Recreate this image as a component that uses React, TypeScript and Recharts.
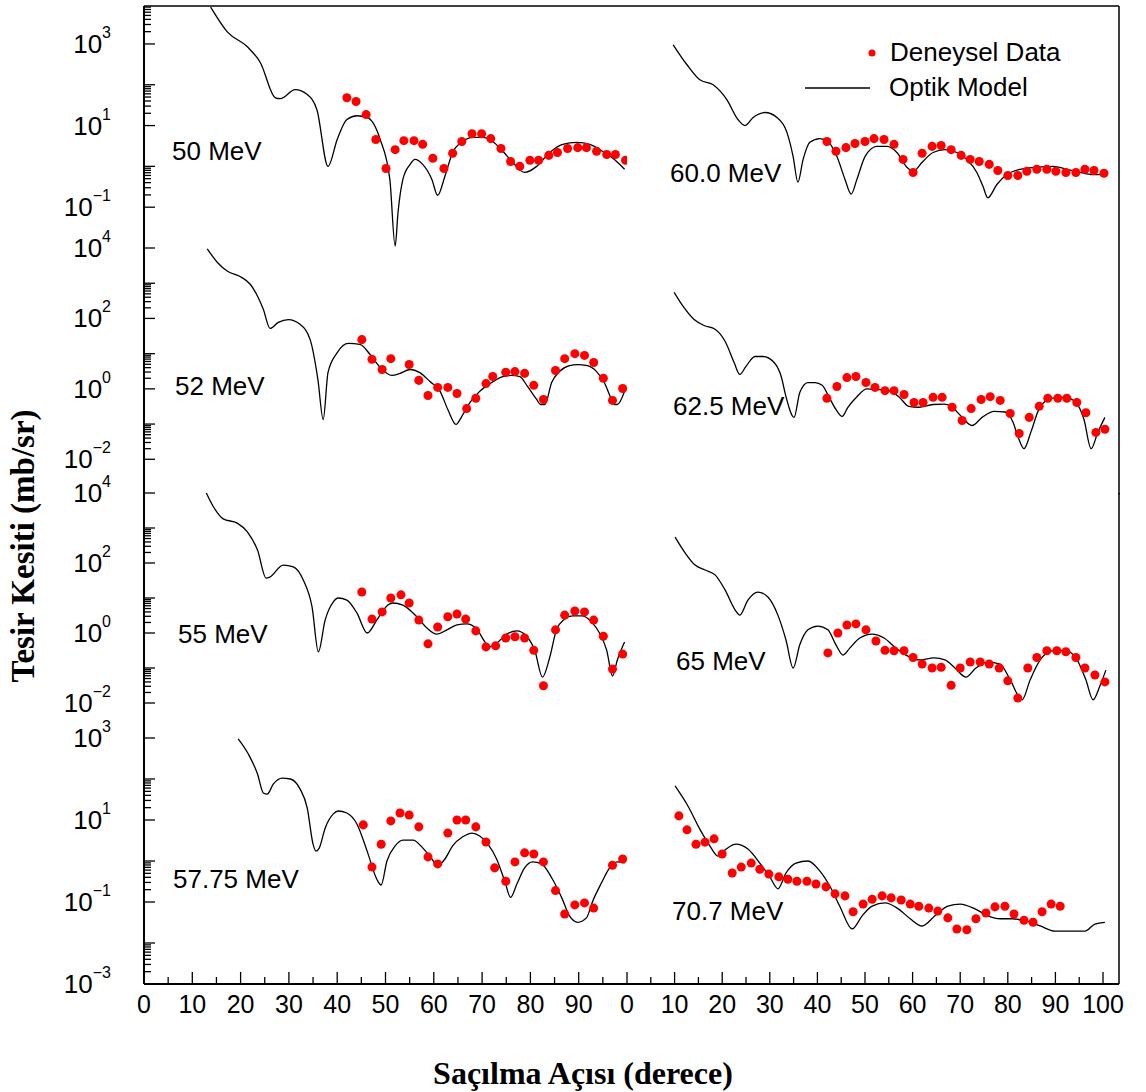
import React from 'react';
import { ComposedChart, Line, Scatter, XAxis, YAxis, ReferenceLine, Legend } from 'recharts';

const SANS = '"Liberation Sans", Arial, Helvetica, sans-serif';
const SERIF = '"Liberation Serif", "Times New Roman", serif';
const RED = '#ff0000';

// ---- data: scattering angle (deg) and cross section (mb/sr) ----
const fit50x = [13.8, 17.3, 21.4, 24.1, 27.2, 28.2, 31.3, 33.8, 35.8, 38.1, 40.0, 42.0, 44.1, 46.2, 48.9, 50.9, 52.0, 52.6, 53.6, 55.1, 56.1, 57.7, 59.6, 60.8, 62.3, 63.9, 66.0, 68.1, 70.1, 72.2, 74.3, 76.3, 78.8, 81.3, 84.0, 86.7, 89.6, 92.3, 94.9, 97.4, 99.5];
const fit50y = [8000, 1950, 851, 347, 47.9, 45.7, 75.9, 57.5, 24.5, 1.0, 4.57, 14.1, 17.4, 15.8, 4.57, 0.48, 0.0112, 0.076, 0.48, 1.12, 1.48, 1.12, 0.48, 0.195, 0.575, 2.19, 4.07, 5.13, 5.13, 4.07, 2.34, 1.26, 0.71, 1.0, 2.19, 3.47, 3.89, 3.47, 2.34, 1.48, 0.85];
const exp50x = [42.0, 43.9, 46.0, 48.0, 50.1, 52.0, 53.8, 55.9, 57.7, 59.8, 62.1, 63.9, 65.8, 67.9, 69.9, 71.8, 73.9, 75.9, 77.8, 79.9, 81.7, 83.8, 85.6, 87.7, 89.8, 91.6, 93.7, 95.8, 97.6, 99.7];
const exp50y = [47.9, 38.9, 18.6, 4.57, 0.89, 2.57, 4.27, 4.27, 3.47, 1.58, 0.89, 2.09, 4.07, 6.31, 6.31, 4.79, 2.75, 1.32, 1.0, 1.41, 1.41, 1.86, 2.19, 2.75, 2.88, 2.88, 2.34, 1.95, 1.95, 1.41];

const fit52x = [13.1, 15.2, 17.3, 19.9, 22.0, 24.7, 26.1, 27.8, 29.9, 32.3, 34.4, 36.0, 37.1, 38.1, 40.0, 42.3, 44.7, 46.8, 48.9, 51.3, 53.0, 55.1, 57.1, 59.2, 61.3, 62.9, 64.6, 65.8, 67.5, 69.5, 72.0, 74.3, 76.1, 77.8, 79.4, 81.3, 82.1, 83.0, 84.4, 86.0, 88.1, 89.8, 91.8, 93.7, 95.3, 96.8, 97.4, 98.0, 99.5];
const fit52y = [9500, 3890, 2190, 1550, 933, 182, 52, 77, 93, 68, 25, 1.86, 0.135, 2.95, 10.7, 19.5, 18.2, 9.5, 4.07, 2.4, 2.75, 3.55, 2.9, 1.62, 0.85, 0.26, 0.098, 0.166, 0.41, 0.85, 1.51, 2.24, 2.4, 2.24, 1.17, 0.5, 0.36, 0.36, 1.51, 3.09, 4.57, 4.9, 4.57, 3.09, 1.51, 0.5, 0.36, 0.36, 0.85];
const exp52x = [45.1, 47.2, 49.3, 51.1, 54.9, 56.9, 58.8, 60.8, 62.9, 64.8, 66.8, 68.7, 70.8, 72.2, 74.9, 76.8, 78.8, 80.7, 82.7, 85.2, 87.1, 89.2, 91.2, 93.1, 95.1, 97.0, 99.1];
const exp52y = [25, 6.9, 3.55, 7.2, 4.9, 1.74, 0.65, 1.1, 1.1, 0.74, 0.275, 0.54, 1.41, 2.24, 2.95, 3.09, 2.75, 1.26, 0.5, 3.31, 7.2, 10, 8.9, 5.6, 2.0, 0.47, 1.02];

const fit55x = [12.9, 14.4, 16.4, 19.3, 21.4, 23.5, 25.3, 26.1, 28.8, 30.9, 33.0, 34.8, 36.1, 37.5, 39.2, 40.2, 42.0, 44.1, 46.2, 48.2, 50.5, 51.5, 53.6, 56.5, 58.6, 60.6, 62.7, 64.8, 66.8, 68.9, 70.6, 71.6, 73.0, 75.1, 77.2, 79.2, 80.9, 82.5, 84.0, 85.4, 87.1, 88.7, 90.8, 92.7, 94.3, 95.8, 97.0, 98.0, 99.5];
const fit55y = [10000, 3980, 1820, 1380, 776, 234, 37, 40, 87, 77, 32, 5.5, 0.29, 2.34, 7.8, 10, 8.7, 3.7, 1.0, 2.34, 6.3, 7.2, 6.3, 2.9, 1.38, 0.93, 1.23, 1.7, 1.82, 1.29, 0.55, 0.4, 0.51, 0.93, 1.15, 0.81, 0.32, 0.055, 0.2, 1.23, 2.5, 3.1, 3.1, 2.04, 1.0, 0.32, 0.059, 0.17, 0.55];
const exp55x = [45.1, 47.2, 49.3, 51.1, 53.2, 54.9, 56.9, 58.8, 60.8, 62.9, 64.8, 66.6, 68.7, 70.8, 72.8, 74.9, 76.8, 78.8, 80.7, 82.7, 85.2, 87.1, 89.2, 91.2, 93.1, 95.1, 97.0, 99.1];
const exp55y = [14.8, 2.5, 4.0, 10, 12.3, 7.2, 2.34, 0.49, 1.48, 2.9, 3.5, 2.5, 1.15, 0.4, 0.43, 0.72, 0.78, 0.72, 0.32, 0.031, 1.23, 3.24, 4.27, 4.0, 2.34, 0.81, 0.093, 0.25];

const fit5775x = [19.5, 21.6, 23.5, 24.7, 25.5, 26.8, 28.6, 30.3, 32.3, 33.8, 35.0, 35.6, 36.3, 37.5, 39.2, 40.2, 42.0, 44.1, 46.2, 48.2, 49.1, 50.3, 52.0, 53.6, 55.7, 57.7, 59.6, 60.8, 62.3, 63.9, 66.0, 67.9, 69.5, 71.2, 73.0, 74.7, 75.9, 77.2, 78.8, 80.5, 82.3, 84.4, 86.5, 88.1, 89.8, 91.6, 92.9, 94.7, 96.4, 98.0, 99.5];
const fit5775y = [955, 407, 132, 45.7, 42.7, 75.9, 105, 100, 57.5, 19.5, 2.57, 1.74, 2.09, 6.3, 14.1, 16.6, 14.8, 7.9, 1.74, 0.36, 0.26, 1.0, 2.34, 3.24, 3.24, 2.09, 1.12, 0.76, 1.12, 2.34, 3.89, 4.79, 4.07, 2.57, 1.12, 0.32, 0.13, 0.275, 0.68, 0.95, 0.85, 0.39, 0.126, 0.046, 0.032, 0.041, 0.105, 0.29, 0.68, 0.95, 0.9];
const exp5775x = [45.4, 47.2, 49.1, 51.1, 53.0, 54.9, 56.9, 58.8, 60.8, 62.9, 64.8, 66.6, 68.7, 70.8, 72.6, 74.9, 76.8, 78.8, 80.7, 82.7, 85.2, 87.1, 89.2, 91.2, 93.1, 97.0, 99.1];
const exp5775y = [7.6, 0.71, 2.57, 9.5, 14.8, 13.2, 6.8, 1.26, 0.85, 4.8, 10, 10, 6.8, 2.9, 0.68, 0.32, 0.95, 1.58, 1.48, 0.95, 0.19, 0.051, 0.085, 0.095, 0.071, 0.79, 1.12];

const fit60x = [9.7, 12.6, 15.3, 18.1, 21.0, 23.3, 24.8, 26.5, 29.0, 31.5, 33.6, 34.9, 35.9, 37.0, 38.4, 40.5, 42.2, 44.1, 45.8, 47.1, 48.3, 50.0, 52.5, 54.6, 56.7, 58.8, 60.1, 62.0, 64.3, 66.8, 69.3, 71.4, 73.5, 74.8, 75.8, 77.7, 79.8, 82.6, 86.1, 89.5, 92.4, 95.2, 97.9, 100];
const fit60y = [955, 309, 132, 100, 42.7, 14.1, 10, 15.8, 20.9, 15.8, 6.8, 1.74, 0.41, 1.48, 3.89, 4.8, 4.07, 1.74, 0.48, 0.21, 0.48, 1.74, 3.09, 3.09, 2.19, 0.95, 0.76, 1.26, 2.19, 2.57, 2.19, 1.48, 0.71, 0.32, 0.17, 0.36, 0.63, 0.85, 0.95, 1.0, 0.85, 0.71, 0.63, 0.63];
const exp60x = [42.0, 43.9, 46.0, 47.9, 50.0, 51.9, 54.0, 56.1, 58.0, 60.1, 62.0, 64.1, 66.0, 68.1, 70.2, 72.1, 74.0, 76.1, 77.9, 80.0, 82.1, 84.0, 86.1, 88.2, 90.1, 92.2, 94.3, 96.2, 98.1, 100.2];
const exp60y = [4.07, 2.34, 2.88, 3.63, 4.07, 4.79, 4.57, 3.47, 1.48, 0.71, 2.09, 3.09, 3.24, 2.57, 1.86, 1.48, 1.32, 1.12, 0.79, 0.6, 0.6, 0.76, 0.85, 0.85, 0.76, 0.71, 0.71, 0.85, 0.79, 0.68];

const fit625x = [9.9, 11.8, 14.1, 16.2, 18.5, 20.6, 22.5, 23.7, 25.0, 26.9, 28.6, 30.9, 32.4, 33.4, 35.1, 36.3, 38.0, 39.5, 41.0, 42.4, 43.9, 45.2, 46.4, 48.3, 50.4, 52.7, 54.8, 57.1, 59.2, 61.3, 64.3, 66.6, 68.1, 70.2, 72.5, 74.6, 77.1, 79.4, 81.1, 82.1, 83.4, 84.9, 86.6, 89.1, 92.0, 94.3, 96.0, 97.5, 98.9, 100.4];
const fit625y = [550, 219, 93, 63, 49, 22.4, 5.6, 2.57, 4.37, 8.3, 8.3, 5.6, 2.24, 0.6, 0.155, 0.79, 1.51, 1.51, 1.26, 0.6, 0.26, 0.166, 0.3, 0.6, 1.0, 0.96, 0.9, 0.6, 0.32, 0.3, 0.36, 0.37, 0.32, 0.166, 0.091, 0.155, 0.23, 0.22, 0.112, 0.045, 0.02, 0.062, 0.275, 0.54, 0.575, 0.41, 0.135, 0.02, 0.058, 0.155];
const exp625x = [42.0, 44.1, 46.2, 48.1, 50.2, 52.1, 54.2, 56.1, 58.2, 60.3, 62.2, 64.3, 66.2, 68.3, 70.4, 72.3, 74.4, 76.3, 78.4, 80.5, 82.4, 84.5, 86.6, 88.4, 90.5, 92.4, 94.5, 96.4, 98.5, 100.4];
const exp625y = [0.54, 1.17, 2.09, 2.24, 1.51, 1.1, 0.89, 0.89, 0.69, 0.41, 0.41, 0.575, 0.575, 0.3, 0.126, 0.275, 0.5, 0.6, 0.47, 0.2, 0.054, 0.155, 0.32, 0.54, 0.54, 0.54, 0.41, 0.21, 0.058, 0.071];

const fit65x = [10.1, 12.2, 14.3, 16.4, 18.5, 20.6, 22.7, 23.7, 25.4, 27.5, 29.6, 31.7, 33.4, 34.9, 36.3, 38.0, 40.1, 42.2, 43.9, 45.4, 46.8, 48.9, 51.5, 54.0, 56.5, 58.6, 61.6, 64.5, 66.8, 68.9, 71.2, 73.3, 75.8, 78.4, 80.5, 83.0, 84.7, 86.8, 89.3, 92.0, 94.3, 96.4, 97.9, 99.4, 100.6];
const fit65y = [550, 195, 87, 63, 45.7, 17, 4.6, 3.24, 8.7, 14.8, 10.7, 3.24, 0.63, 0.1, 0.46, 1.23, 1.58, 1.23, 0.46, 0.234, 0.37, 0.72, 0.93, 0.72, 0.37, 0.234, 0.17, 0.195, 0.17, 0.1, 0.055, 0.1, 0.148, 0.13, 0.046, 0.0123, 0.046, 0.17, 0.31, 0.32, 0.195, 0.046, 0.0123, 0.032, 0.087];
const exp65x = [42.2, 44.3, 46.2, 48.1, 50.2, 52.3, 54.2, 56.1, 58.2, 60.1, 62.0, 64.1, 66.0, 68.1, 70.0, 72.1, 74.2, 76.1, 78.2, 80.0, 82.1, 84.2, 86.1, 88.2, 90.3, 92.2, 94.3, 96.2, 98.3, 100.4];
const exp65y = [0.27, 1.0, 1.7, 1.82, 1.23, 0.59, 0.32, 0.31, 0.31, 0.2, 0.13, 0.1, 0.105, 0.032, 0.1, 0.148, 0.148, 0.13, 0.1, 0.043, 0.0138, 0.1, 0.2, 0.31, 0.31, 0.29, 0.2, 0.1, 0.063, 0.04];

const fit707x = [10.1, 12.8, 15.3, 17.4, 19.1, 20.8, 22.9, 25.4, 27.9, 30.0, 31.7, 33.4, 35.5, 38.0, 40.5, 42.6, 44.7, 47.3, 49.4, 51.5, 54.2, 57.0, 59.5, 62.0, 64.7, 67.4, 70.0, 73.1, 75.8, 78.4, 80.9, 83.6, 86.8, 89.9, 93.1, 96.2, 98.3, 100.4];
const fit707y = [68, 22, 6.0, 2.34, 1.32, 1.95, 2.57, 1.95, 0.89, 0.41, 0.21, 0.51, 0.89, 1.0, 0.575, 0.245, 0.079, 0.022, 0.046, 0.079, 0.095, 0.068, 0.039, 0.026, 0.046, 0.079, 0.089, 0.068, 0.046, 0.039, 0.039, 0.035, 0.026, 0.0195, 0.0195, 0.0195, 0.029, 0.032];
const exp707x = [10.9, 12.6, 14.5, 16.4, 18.3, 20.0, 22.1, 24.0, 26.1, 27.9, 29.8, 31.9, 33.8, 35.7, 37.8, 39.7, 41.8, 43.7, 45.8, 47.5, 49.6, 51.5, 53.6, 55.5, 57.6, 59.5, 61.3, 63.4, 65.3, 67.4, 69.3, 71.4, 73.3, 75.4, 77.3, 79.4, 81.3, 83.4, 85.3, 87.2, 89.1, 91.0];
const exp707y = [12.6, 5.75, 2.57, 2.88, 3.47, 1.48, 0.51, 0.71, 0.89, 0.63, 0.48, 0.41, 0.36, 0.32, 0.32, 0.275, 0.234, 0.158, 0.141, 0.058, 0.089, 0.117, 0.141, 0.126, 0.112, 0.089, 0.079, 0.071, 0.06, 0.041, 0.022, 0.021, 0.039, 0.054, 0.076, 0.079, 0.051, 0.036, 0.032, 0.058, 0.089, 0.079];

const energies = ['50 MeV', '52 MeV', '55 MeV', '57.75 MeV', '60.0 MeV', '62.5 MeV', '65 MeV', '70.7 MeV'];
const yLabelExps = [[3, 1, -1], [4, 2, 0, -2], [4, 2, 0, -2], [3, 1, -1, -3]];
const leftTicks = [0, 5, 10, 15, 20, 25, 30, 35, 40, 45, 50, 55, 60, 65, 70, 75, 80, 85, 90, 95];
const rightTicks = [0, 5, 10, 15, 20, 25, 30, 35, 40, 45, 50, 55, 60, 65, 70, 75, 80, 85, 90, 95, 100];

const zip = (xs: number[], ys: number[]) => xs.map((a, i) => ({ a, v: ys[i] }));

const panels = [
  { row: 0, col: 0, fit: zip(fit50x, fit50y), exp: zip(exp50x, exp50y) },
  { row: 1, col: 0, fit: zip(fit52x, fit52y), exp: zip(exp52x, exp52y) },
  { row: 2, col: 0, fit: zip(fit55x, fit55y), exp: zip(exp55x, exp55y) },
  { row: 3, col: 0, fit: zip(fit5775x, fit5775y), exp: zip(exp5775x, exp5775y) },
  { row: 0, col: 1, fit: zip(fit60x, fit60y), exp: zip(exp60x, exp60y) },
  { row: 1, col: 1, fit: zip(fit625x, fit625y), exp: zip(exp625x, exp625y) },
  { row: 2, col: 1, fit: zip(fit65x, fit65y), exp: zip(exp65x, exp65y) },
  { row: 3, col: 1, fit: zip(fit707x, fit707y), exp: zip(exp707x, exp707y) },
];

// ---- layout (page pixels) ----
const AXIS_X = 144;
const MID_X = 627;
const RIGHT_X = 1119;
const ROW_TOP = [6, 248, 493, 738];
const ROW_BOTTOM = [248, 494.5, 738, 984];
const Y_DOMAINS: [number, number][] = [[0.01, 8511], [0.001, 10000], [0.001, 10000], [0.001, 1000]];
const RIGHT_MAX = 103.36;
const LABEL_POS = [[172, 160], [175, 395], [178, 643], [173, 888], [670, 182], [673, 415], [676, 670], [672, 920]];

function logTicks(exps: number[], dom: [number, number]) {
  const out: number[] = [];
  exps.forEach((e) => {
    const base = Math.pow(10, e);
    for (let k = 1; k <= 10; k++) out.push(Number((k * base).toPrecision(3)));
  });
  return out.filter((v) => v >= dom[0] * 0.999 && v <= dom[1] * 1.001);
}

const YTick = (props: any) => {
  const { x, y, payload, labels } = props;
  const e = Math.log10(payload.value);
  const decade = Math.abs(e - Math.round(e)) < 1e-6;
  const labeled = decade && labels.includes(Math.round(e));
  const len = decade ? 11 : 7;
  const exp = Math.round(e);
  return (
    <g>
      <line x1={x} x2={x + len} y1={y} y2={y} stroke="#000" strokeWidth={1.3} />
      {labeled && (
        <text x={x - 33} y={y + 9} textAnchor="end" fontSize={26} fontFamily={SANS} fill="#000">
          10
          <tspan dy={-15} fontSize={16}>{exp < 0 ? `\u2212${-exp}` : `${exp}`}</tspan>
        </text>
      )}
    </g>
  );
};

const XTick = (props: any) => {
  const { x, y, payload } = props;
  const major = payload.value % 10 === 0;
  return (
    <g>
      <line x1={x} x2={x} y1={y} y2={y - (major ? 12 : 7)} stroke="#000" strokeWidth={1.3} />
      {major && (
        <text x={x} y={y + 29} textAnchor="middle" fontSize={25} fontFamily={SANS} fill="#000">
          {payload.value}
        </text>
      )}
    </g>
  );
};

const LegendBox = () => (
  <svg width={280} height={70}>
    <circle cx={72} cy={18} r={3.5} fill={RED} />
    <text x={90} y={26} fontSize={26} fontFamily={SANS} fill="#000">Deneysel Data</text>
    <line x1={5} x2={70} y1={53} y2={53} stroke="#000" strokeWidth={1.3} />
    <text x={89} y={61} fontSize={26} fontFamily={SANS} fill="#000">Optik Model</text>
  </svg>
);

function Panel({ row, col, fit, exp }: any) {
  const bottomRow = row === 3;
  const padTop = 20;
  const axisH = bottomRow ? 50 : 0;
  const padBottom = bottomRow ? 10 : 20;
  const plotH = ROW_BOTTOM[row] - ROW_TOP[row];
  const left = col === 0 ? 0 : MID_X - 20;
  const width = col === 0 ? MID_X + 20 : RIGHT_X - MID_X + 20 + 27;
  const height = plotH + padTop + padBottom + axisH;
  const margin = col === 0
    ? { top: padTop, right: 20, bottom: padBottom, left: 0 }
    : { top: padTop, right: 27, bottom: padBottom, left: 20 };
  const dom = Y_DOMAINS[row];
  const xMax = col === 0 ? 100 : RIGHT_MAX;
  const labels = yLabelExps[row];

  return (
    <div style={{ position: 'absolute', left, top: ROW_TOP[row] - padTop, width, height }}>
      <ComposedChart width={width} height={height} margin={margin}>
        <XAxis
          type="number"
          dataKey="a"
          domain={[0, xMax]}
          allowDataOverflow
          hide={!bottomRow}
          height={axisH}
          ticks={col === 0 ? leftTicks : rightTicks}
          interval={0}
          tickLine={false}
          tickSize={0}
          tickMargin={0}
          tick={<XTick />}
          axisLine={{ stroke: '#000', strokeWidth: 2 }}
        />
        <YAxis
          type="number"
          dataKey="v"
          scale="log"
          domain={dom}
          allowDataOverflow
          hide={col === 1}
          width={AXIS_X}
          ticks={logTicks(labels, dom)}
          interval={0}
          tickLine={false}
          tickSize={0}
          tickMargin={0}
          tick={(p: any) => <YTick {...p} labels={labels} />}
          axisLine={{ stroke: '#000', strokeWidth: 2 }}
        />
        {row === 0 && <ReferenceLine y={dom[1]} stroke="#000" strokeWidth={1.5} />}
        {col === 1 && <ReferenceLine x={RIGHT_MAX} stroke="#000" strokeWidth={1.5} />}
        <Line
          name="Optik Model"
          data={fit}
          dataKey="v"
          type="monotone"
          stroke="#000"
          strokeWidth={1.3}
          dot={false}
          isAnimationActive={false}
        />
        <Scatter name="Deneysel Data" data={exp} dataKey="v" fill={RED} shape="circle" isAnimationActive={false} />
        {row === 0 && col === 1 && (
          <Legend
            layout="vertical"
            align="center"
            verticalAlign="middle"
            content={<LegendBox />}
            wrapperStyle={{ position: 'absolute', left: 193, top: 49, width: 280, height: 70 }}
          />
        )}
      </ComposedChart>
    </div>
  );
}

export default function App() {
  return (
    <div style={{ position: 'absolute', left: 0, top: 0, width: 1146, height: 1092, background: '#fff' }}>
      {panels.map((p, i) => (
        <Panel key={i} {...p} />
      ))}
      <svg width={1146} height={1092} style={{ position: 'absolute', left: 0, top: 0, pointerEvents: 'none' }}>
        {energies.map((t, i) => (
          <text key={t} x={LABEL_POS[i][0]} y={LABEL_POS[i][1]} fontSize={26} fontFamily={SANS} fill="#000">
            {t}
          </text>
        ))}
        <text x={583} y={1084} textAnchor="middle" fontSize={32} fontWeight="bold" fontFamily={SERIF} fill="#000">
          Saçılma Açısı (derece)
        </text>
        <text transform="translate(34,546) rotate(-90)" textAnchor="middle" fontSize={33} fontWeight="bold" fontFamily={SERIF} fill="#000">
          Tesir Kesiti (mb/sr)
        </text>
      </svg>
    </div>
  );
}
